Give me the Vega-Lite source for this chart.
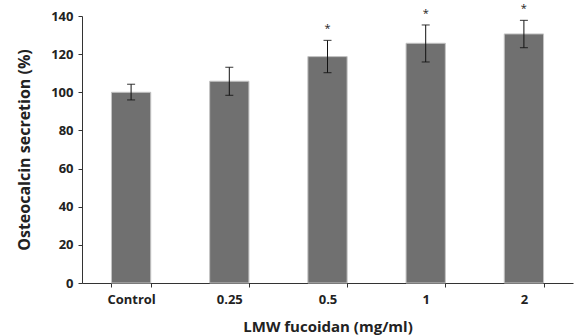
{
  "$schema": "https://vega.github.io/schema/vega-lite/v6.json",
  "autosize": "none",
  "width": 491,
  "height": 267,
  "padding": {"left": 82, "top": 16, "right": 3, "bottom": 52},
  "background": "white",
  "config": {
    "view": {"stroke": null},
    "font": "Open Sans",
    "axis": {"domainColor": "#333333", "tickColor": "#333333", "labelColor": "#222222", "titleColor": "#222222", "labelFont": "Open Sans", "titleFont": "Open Sans", "labelFontWeight": "bold", "titleFontWeight": "bold", "grid": false}
  },
  "data": {"values": [
    {"dose": "Control", "mean": 100, "lower": 96, "upper": 104.2, "sig": ""},
    {"dose": "0.25", "mean": 105.8, "lower": 98.4, "upper": 113.1, "sig": ""},
    {"dose": "0.5", "mean": 118.7, "lower": 110.3, "upper": 127.2, "sig": "*"},
    {"dose": "1", "mean": 125.7, "lower": 115.9, "upper": 135.3, "sig": "*"},
    {"dose": "2", "mean": 130.6, "lower": 123.4, "upper": 137.7, "sig": "*"}
  ]},
  "encoding": {
    "x": {"field": "dose", "type": "nominal", "sort": null,
      "scale": {"paddingInner": 0.6, "paddingOuter": 0.3},
      "axis": {"title": "LMW fucoidan (mg/ml)", "labelAngle": 0, "labelFontSize": 13, "titleFontSize": 15, "tickBand": "extent", "tickSize": 4, "labelPadding": 6, "titlePadding": 13}}
  },
  "layer": [
    {"mark": {"type": "bar", "color": "#707070", "stroke": "#c4c4c4", "strokeWidth": 1},
     "encoding": {"y": {"field": "mean", "type": "quantitative",
       "scale": {"domain": [0, 140]},
       "axis": {"title": "Osteocalcin secretion (%)", "values": [0,20,40,60,80,100,120,140], "labelOverlap": false, "labelFontSize": 13, "titleFontSize": 16, "tickSize": 4, "labelPadding": 5, "titlePadding": 18}}}},
    {"mark": {"type": "rule", "color": "#111111", "strokeWidth": 1},
     "encoding": {"y": {"field": "lower", "type": "quantitative", "scale": {"domain": [0, 140]},
       "axis": {"title": "Osteocalcin secretion (%)", "values": [0,20,40,60,80,100,120,140], "labelOverlap": false, "labelFontSize": 13, "titleFontSize": 16, "tickSize": 4, "labelPadding": 5, "titlePadding": 18}}, "y2": {"field": "upper"}}},
    {"mark": {"type": "tick", "color": "#111111", "size": 8, "thickness": 1.2, "orient": "horizontal"},
     "encoding": {"y": {"field": "lower", "type": "quantitative", "scale": {"domain": [0, 140]},
       "axis": {"title": "Osteocalcin secretion (%)", "values": [0,20,40,60,80,100,120,140], "labelOverlap": false, "labelFontSize": 13, "titleFontSize": 16, "tickSize": 4, "labelPadding": 5, "titlePadding": 18}}}},
    {"mark": {"type": "tick", "color": "#111111", "size": 8, "thickness": 1.2, "orient": "horizontal"},
     "encoding": {"y": {"field": "upper", "type": "quantitative", "scale": {"domain": [0, 140]},
       "axis": {"title": "Osteocalcin secretion (%)", "values": [0,20,40,60,80,100,120,140], "labelOverlap": false, "labelFontSize": 13, "titleFontSize": 16, "tickSize": 4, "labelPadding": 5, "titlePadding": 18}}}},
    {"mark": {"type": "text", "color": "#222222", "fontSize": 11, "dy": -11, "font": "Open Sans"},
     "encoding": {"y": {"field": "upper", "type": "quantitative", "scale": {"domain": [0, 140]},
       "axis": {"title": "Osteocalcin secretion (%)", "values": [0,20,40,60,80,100,120,140], "labelOverlap": false, "labelFontSize": 13, "titleFontSize": 16, "tickSize": 4, "labelPadding": 5, "titlePadding": 18}}, "text": {"field": "sig"}}}
  ]
}
